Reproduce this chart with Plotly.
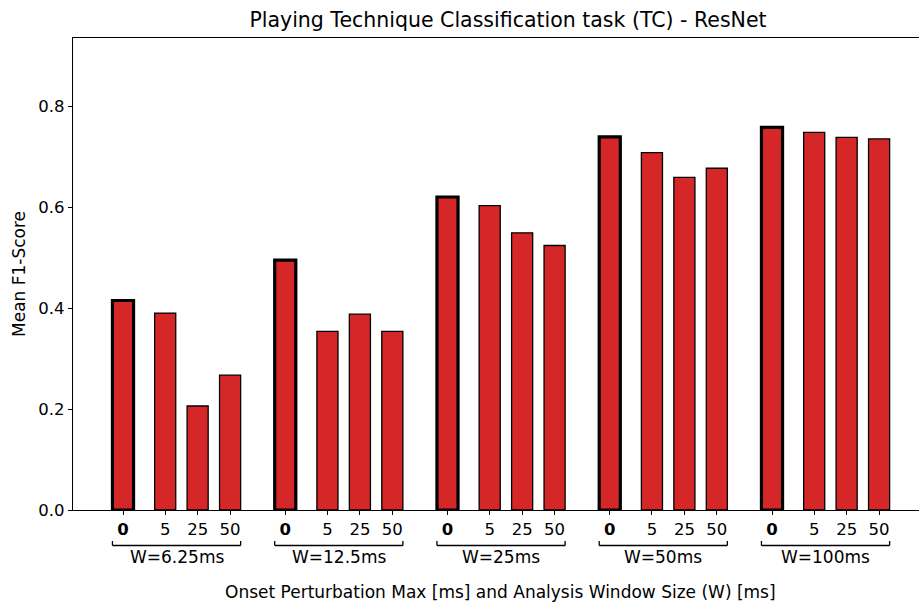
import plotly.graph_objects as go

# Analysis window sizes and onset perturbation levels
windows = ["W=6.25ms", "W=12.5ms", "W=25ms", "W=50ms", "W=100ms"]
perturbations = ["0", "5", "25", "50"]

# Mean F1-score per window (rows) and perturbation max (columns)
f1_w625 = [0.415, 0.390, 0.206, 0.267]
f1_w125 = [0.495, 0.354, 0.388, 0.354]
f1_w25 = [0.620, 0.603, 0.549, 0.524]
f1_w50 = [0.739, 0.708, 0.659, 0.677]
f1_w100 = [0.758, 0.748, 0.738, 0.735]
scores = [f1_w625, f1_w125, f1_w25, f1_w50, f1_w100]

# Layout of the grouped bars along x
group_step = 5.0
inner_offsets = [0.0, 1.3, 2.3, 3.3]
bar_width = 0.65

xs, ys, widths, tickvals, ticktext = [], [], [], [], []
for g, vals in enumerate(scores):
    for k, v in enumerate(vals):
        x = g * group_step + inner_offsets[k]
        xs.append(x)
        ys.append(v)
        widths.append(3.2 if k == 0 else 1.3)
        tickvals.append(x)
        ticktext.append("<b>0</b>" if k == 0 else perturbations[k])

fig = go.Figure(
    go.Bar(
        x=xs,
        y=ys,
        width=bar_width,
        marker=dict(color="#d62728", line=dict(color="black", width=widths)),
        showlegend=False,
    )
)

font = "DejaVu Sans"
tick_size = 16.5
label_size = 17
plot_h = 602 - 38 - 92

shapes = []
annotations = []
for g, name in enumerate(windows):
    x0 = g * group_step + inner_offsets[0] - bar_width / 2
    x1 = g * group_step + inner_offsets[-1] + bar_width / 2
    yb = -35.5 / plot_h
    yt = -31 / plot_h
    line = dict(color="black", width=1.3)
    shapes.append(dict(type="line", xref="x", yref="paper", x0=x0, x1=x1, y0=yb, y1=yb, line=line))
    shapes.append(dict(type="line", xref="x", yref="paper", x0=x0, x1=x0, y0=yb, y1=yt, line=line))
    shapes.append(dict(type="line", xref="x", yref="paper", x0=x1, x1=x1, y0=yb, y1=yt, line=line))
    annotations.append(dict(
        text=name, xref="x", yref="paper", x=(x0 + x1) / 2, y=-47 / plot_h,
        xanchor="center", yanchor="middle", showarrow=False,
        font=dict(family=font, size=label_size, color="black"),
    ))

annotations.append(dict(
    text="Onset Perturbation Max [ms] and Analysis Window Size (W) [ms]",
    xref="paper", yref="paper", x=(500 - 73) / 846, y=-82 / plot_h,
    xanchor="center", yanchor="middle", showarrow=False,
    font=dict(family=font, size=label_size, color="black"),
))
annotations.append(dict(
    text="Mean F1-Score", xref="paper", yref="paper", x=-54 / 846, y=0.5,
    xanchor="center", yanchor="middle", textangle=-90, showarrow=False,
    font=dict(family=font, size=label_size, color="black"),
))

unit = 32.45
fig.update_layout(
    width=919,
    height=602,
    margin=dict(l=73, r=0, t=38, b=92),
    paper_bgcolor="white",
    plot_bgcolor="white",
    font=dict(family=font, size=tick_size, color="black"),
    title=dict(
        text="Playing Technique Classification task (TC) - ResNet",
        x=508 / 919, xref="container", xanchor="center",
        y=1 - 20 / 602, yref="container", yanchor="middle",
        font=dict(family=font, size=20.5, color="black"),
    ),
    xaxis=dict(
        range=[-50 / unit, 4 * group_step + 147 / unit],
        tickvals=tickvals,
        ticktext=ticktext,
        ticks="outside",
        ticklen=4,
        tickcolor="black",
        showline=True,
        linecolor="black",
        linewidth=1.2,
        mirror=True,
        showgrid=False,
        zeroline=False,
        tickfont=dict(family=font, size=tick_size, color="black"),
    ),
    yaxis=dict(
        range=[0, 0.935],
        tickvals=[0, 0.2, 0.4, 0.6, 0.8],
        tickformat=".1f",
        ticks="outside",
        ticklen=4,
        tickcolor="black",
        showline=True,
        linecolor="black",
        linewidth=1.2,
        showgrid=False,
        zeroline=False,
        tickfont=dict(family=font, size=tick_size, color="black"),
    ),
    shapes=shapes,
    annotations=annotations,
)

fig.write_html("out.html")
